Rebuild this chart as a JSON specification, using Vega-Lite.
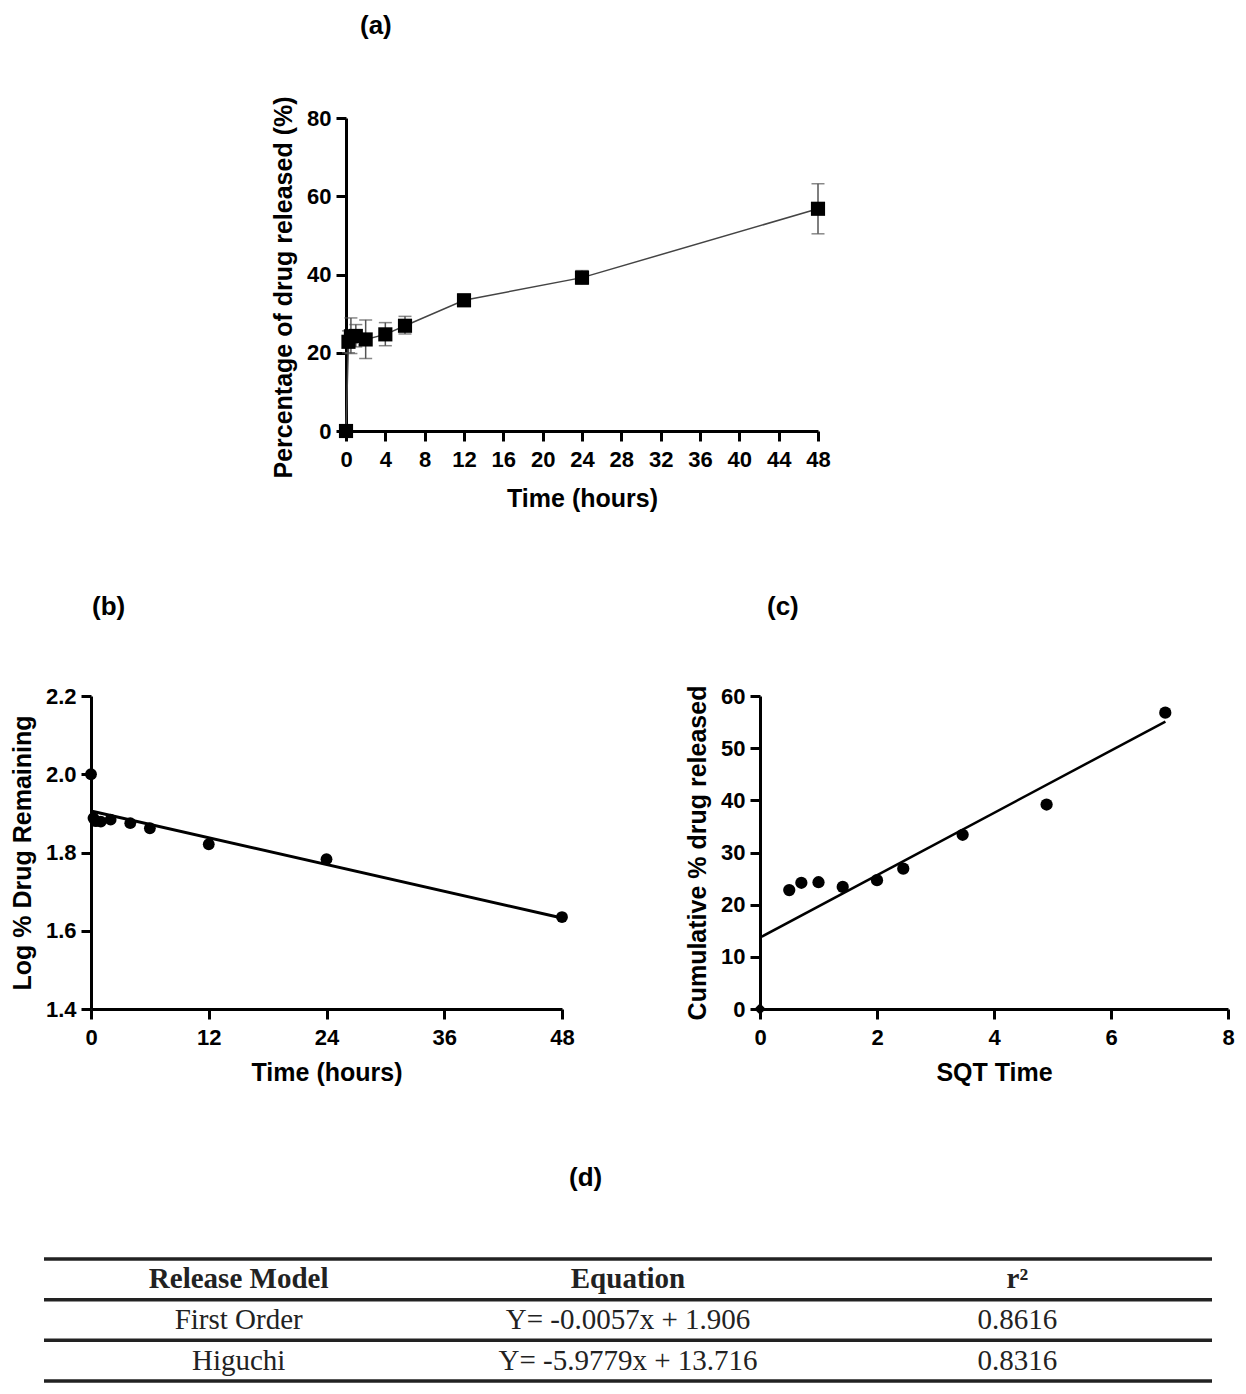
{
  "$schema": "https://vega.github.io/schema/vega-lite/v6.json",
  "padding": {"left": 0, "top": 12, "right": 0, "bottom": 0},
  "background": "white",
  "spacing": 80,
  "config": {
    "font": "Liberation Sans",
    "view": {"stroke": null},
    "axis": {"grid": false, "domainColor": "#000", "domainWidth": 3, "tickColor": "#000", "tickWidth": 3, "tickSize": 10, "labelFont": "Liberation Sans", "labelFontSize": 22, "labelFontWeight": "bold", "labelColor": "#000", "labelFlush": false, "labelOverlap": false, "titleFont": "Liberation Sans", "titleFontSize": 25, "titleFontWeight": "bold", "titleColor": "#000"},
    "axisX": {"labelPadding": 8, "titlePadding": 12},
    "axisY": {"labelPadding": 5, "titlePadding": 10},
    "title": {"font": "Liberation Sans", "fontSize": 26, "fontWeight": "bold", "color": "#000", "anchor": "start", "frame": "group"}
  },
  "vconcat": [
    {
      "spacing": 0,
      "hconcat": [
        {"width": 271, "height": 396, "data": {"values": [{}]}, "mark": {"type": "point", "opacity": 0}},
        {
          "width": 472, "height": 313,
          "title": {"text": "(a)", "offset": 57, "dx": 14},
          "data": {"values": [
            {"t": 0, "mean": 0, "lo": null, "hi": null},
            {"t": 0.25, "mean": 22.8, "lo": 20.0, "hi": 25.6},
            {"t": 0.5, "mean": 24.2, "lo": 19.8, "hi": 28.9},
            {"t": 1, "mean": 24.3, "lo": 21.5, "hi": 27.2},
            {"t": 2, "mean": 23.4, "lo": 18.5, "hi": 28.4},
            {"t": 4, "mean": 24.7, "lo": 21.8, "hi": 27.7},
            {"t": 6, "mean": 26.9, "lo": 24.8, "hi": 29.3},
            {"t": 12, "mean": 33.4, "lo": 32.0, "hi": 35.0},
            {"t": 24, "mean": 39.2, "lo": 37.5, "hi": 41.0},
            {"t": 48, "mean": 56.8, "lo": 50.4, "hi": 63.2}
          ]},
          "encoding": {
            "x": {"field": "t", "type": "quantitative", "title": "Time (hours)", "scale": {"domain": [0, 48], "nice": false}, "axis": {"values": [0, 4, 8, 12, 16, 20, 24, 28, 32, 36, 40, 44, 48], "titlePadding": 16}}
          },
          "layer": [
            {
              "mark": {"type": "rule", "color": "#555", "strokeWidth": 1.5},
              "encoding": {
                "y": {"field": "lo", "type": "quantitative", "title": "Percentage of drug released (%)", "scale": {"domain": [0, 80], "nice": false}, "axis": {"values": [0, 20, 40, 60, 80], "titleY": 169}},
                "y2": {"field": "hi"}
              }
            },
            {
              "mark": {"type": "tick", "orient": "horizontal", "size": 13, "thickness": 1.5, "color": "#555"},
              "encoding": {"y": {"field": "lo", "type": "quantitative", "title": "Percentage of drug released (%)"}}
            },
            {
              "mark": {"type": "tick", "orient": "horizontal", "size": 13, "thickness": 1.5, "color": "#555"},
              "encoding": {"y": {"field": "hi", "type": "quantitative", "title": "Percentage of drug released (%)"}}
            },
            {
              "mark": {"type": "line", "color": "#444", "strokeWidth": 1.5},
              "encoding": {"y": {"field": "mean", "type": "quantitative", "title": "Percentage of drug released (%)"}}
            },
            {
              "mark": {"type": "point", "shape": "square", "filled": true, "size": 200, "color": "#000", "opacity": 1},
              "encoding": {"y": {"field": "mean", "type": "quantitative", "title": "Percentage of drug released (%)"}}
            }
          ]
        }
      ]
    },
    {
      "spacing": 0,
      "hconcat": [
        {"width": 10, "height": 1, "data": {"values": [{}]}, "mark": {"type": "point", "opacity": 0}},
        {
          "width": 471, "height": 313,
          "title": {"text": "(b)", "offset": 65, "dx": 1},
          "encoding": {
            "x": {"field": "t", "type": "quantitative", "title": "Time (hours)", "scale": {"domain": [0, 48], "nice": false}, "axis": {"values": [0, 12, 24, 36, 48]}},
            "y": {"field": "v", "type": "quantitative", "title": "Log % Drug Remaining", "scale": {"domain": [1.4, 2.2], "nice": false, "zero": false}, "axis": {"values": [1.4, 1.6, 1.8, 2.0, 2.2], "format": ".1f"}}
          },
          "layer": [
            {
              "data": {"values": [{"t": 0, "v": 1.906}, {"t": 48, "v": 1.6324}]},
              "mark": {"type": "line", "color": "#000", "strokeWidth": 3}
            },
            {
              "data": {"values": [
                {"t": 0, "v": 2.0},
                {"t": 0.25, "v": 1.888},
                {"t": 0.5, "v": 1.880},
                {"t": 1, "v": 1.879},
                {"t": 2, "v": 1.884},
                {"t": 4, "v": 1.875},
                {"t": 6, "v": 1.862},
                {"t": 12, "v": 1.821},
                {"t": 24, "v": 1.783},
                {"t": 48, "v": 1.635}
              ]},
              "mark": {"type": "circle", "size": 140, "color": "#000", "opacity": 1}
            }
          ]
        },
        {"width": 110, "height": 1, "data": {"values": [{}]}, "mark": {"type": "point", "opacity": 0}},
        {
          "width": 468, "height": 313,
          "title": {"text": "(c)", "offset": 65, "dx": 7},
          "encoding": {
            "x": {"field": "sqt", "type": "quantitative", "title": "SQT Time", "scale": {"domain": [0, 8], "nice": false}, "axis": {"values": [0, 2, 4, 6, 8]}},
            "y": {"field": "cum", "type": "quantitative", "title": "Cumulative % drug released", "scale": {"domain": [0, 60], "nice": false}, "axis": {"values": [0, 10, 20, 30, 40, 50, 60]}}
          },
          "layer": [
            {
              "data": {"values": [{"sqt": 0, "cum": 13.7}, {"sqt": 6.93, "cum": 55.1}]},
              "mark": {"type": "line", "color": "#000", "strokeWidth": 2.5}
            },
            {
              "data": {"values": [{"sqt": 0, "cum": 0}]},
              "mark": {"type": "point", "shape": "diamond", "filled": true, "size": 130, "color": "#000", "opacity": 1}
            },
            {
              "data": {"values": [
                {"sqt": 0.5, "cum": 22.8},
                {"sqt": 0.707, "cum": 24.2},
                {"sqt": 1.0, "cum": 24.3},
                {"sqt": 1.414, "cum": 23.4},
                {"sqt": 2.0, "cum": 24.7},
                {"sqt": 2.449, "cum": 26.9},
                {"sqt": 3.464, "cum": 33.4},
                {"sqt": 4.899, "cum": 39.2},
                {"sqt": 6.928, "cum": 56.8}
              ]},
              "mark": {"type": "circle", "size": 150, "color": "#000", "opacity": 1}
            }
          ]
        }
      ]
    },
    {
      "spacing": 0,
      "hconcat": [
        {"width": 42, "height": 1, "data": {"values": [{}]}, "mark": {"type": "point", "opacity": 0}},
        {
          "width": 1168, "height": 122,
          "title": {"text": "(d)", "offset": 66, "dx": 525},
          "layer": [
            {
              "data": {"values": [{"row": "header"}, {"row": "First Order"}, {"row": "Higuchi"}]},
              "mark": {"type": "rule", "color": "#222", "strokeWidth": 3.5},
              "encoding": {"y": {"field": "row", "type": "nominal", "bandPosition": 0, "axis": null, "scale": {"type": "band", "domain": ["header", "First Order", "Higuchi"], "paddingInner": 0, "paddingOuter": 0}}}
            },
            {
              "data": {"values": [{"row": "Higuchi"}]},
              "mark": {"type": "rule", "color": "#222", "strokeWidth": 3.5},
              "encoding": {"y": {"field": "row", "type": "nominal", "bandPosition": 1, "axis": null}}
            },
            {
              "data": {"values": [
                {"row": "header", "col": "model", "text": "Release Model"},
                {"row": "header", "col": "equation", "text": "Equation"},
                {"row": "header", "col": "r2", "text": "r²"}
              ]},
              "mark": {"type": "text", "font": "Liberation Serif", "fontSize": 29, "fontWeight": "bold", "color": "#222", "baseline": "middle"},
              "encoding": {
                "x": {"field": "col", "type": "nominal", "axis": null, "scale": {"type": "band", "domain": ["model", "equation", "r2"], "paddingInner": 0, "paddingOuter": 0}},
                "y": {"field": "row", "type": "nominal", "axis": null},
                "text": {"field": "text"}
              }
            },
            {
              "data": {"values": [
                {"row": "First Order", "col": "model", "text": "First Order"},
                {"row": "First Order", "col": "equation", "text": "Y= -0.0057x + 1.906"},
                {"row": "First Order", "col": "r2", "text": "0.8616"},
                {"row": "Higuchi", "col": "model", "text": "Higuchi"},
                {"row": "Higuchi", "col": "equation", "text": "Y= -5.9779x + 13.716"},
                {"row": "Higuchi", "col": "r2", "text": "0.8316"}
              ]},
              "mark": {"type": "text", "font": "Liberation Serif", "fontSize": 29, "color": "#222", "baseline": "middle"},
              "encoding": {
                "x": {"field": "col", "type": "nominal", "axis": null},
                "y": {"field": "row", "type": "nominal", "axis": null},
                "text": {"field": "text"}
              }
            }
          ]
        }
      ]
    }
  ]
}
